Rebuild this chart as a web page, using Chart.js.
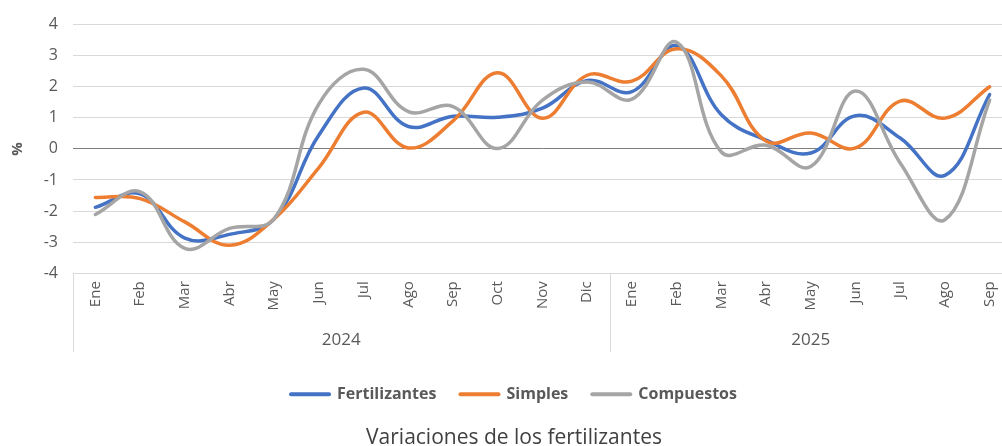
<!DOCTYPE html>
<html>
<head>
<meta charset="utf-8">
<script src="https://cdn.jsdelivr.net/npm/chart.js@4/dist/chart.umd.min.js"></script>
<style>
  html, body { margin: 0; padding: 0; background: #fff; overflow: hidden; }
  #wrap { width: 1024px; height: 446px; }
</style>
</head>
<body>
<div id="wrap"><canvas id="chart" width="1024" height="446"></canvas></div>
<script>
const months = ['Ene','Feb','Mar','Abr','May','Jun','Jul','Ago','Sep','Oct','Nov','Dic',
                'Ene','Feb','Mar','Abr','May','Jun','Jul','Ago','Sep'];
const yearLabels = ['2024', '2025'];
const yearSpans = [12, 9];

const fertilizantes = [-1.88,-1.45,-2.87,-2.75,-2.25,0.45,1.96,0.72,1.05,1.02,1.31,2.2,
                       1.84,3.32,1.1,0.28,-0.13,1.07,0.35,-0.85,1.75];
const simples = [-1.56,-1.6,-2.35,-3.1,-2.25,-0.6,1.18,0.03,0.9,2.45,0.99,2.37,
                 2.18,3.22,2.35,0.25,0.51,0.03,1.54,0.99,2.0];
const compuestos = [-2.11,-1.38,-3.2,-2.56,-2.25,1.45,2.56,1.2,1.36,0.01,1.57,2.15,
                    1.6,3.43,-0.1,0.12,-0.57,1.86,-0.45,-2.28,1.57];

const yTicks = [-4,-3,-2,-1,0,1,2,3,4];

const FONT = "'Open Sans', 'Noto Sans', sans-serif";
const TXT = '#595959';

// year row under the month labels, with the group separators
const yearGroups = {
  id: 'yearGroups',
  afterDraw(chart) {
    const x = chart.scales.x;
    const ctx = chart.ctx;
    const top = x.top;
    const bottom = x.top + 79;
    const bounds = [x.left];
    let idx = 0;
    yearSpans.forEach(n => {
      idx += n;
      if (idx < months.length) {
        bounds.push((x.getPixelForTick(idx - 1) + x.getPixelForTick(idx)) / 2);
      } else {
        bounds.push(x.right);
      }
    });
    ctx.save();
    ctx.strokeStyle = '#d9d9d9';
    ctx.lineWidth = 1;
    bounds.forEach(b => {
      const px = Math.round(b) + 0.5;
      ctx.beginPath();
      ctx.moveTo(px, top);
      ctx.lineTo(px, bottom);
      ctx.stroke();
    });
    ctx.fillStyle = TXT;
    ctx.font = '17px ' + FONT;
    ctx.textAlign = 'center';
    ctx.textBaseline = 'middle';
    yearLabels.forEach((label, i) => {
      ctx.fillText(label, (bounds[i] + bounds[i + 1]) / 2, top + 67);
    });
    ctx.restore();
  }
};

const ctx = document.getElementById('chart').getContext('2d');
new Chart(ctx, {
  type: 'line',
  data: {
    labels: months,
    datasets: [
      { label: 'Fertilizantes', data: fertilizantes, borderColor: '#4472c4', backgroundColor: '#4472c4', order: 3 },
      { label: 'Simples', data: simples, borderColor: '#ed7d31', backgroundColor: '#ed7d31', order: 2 },
      { label: 'Compuestos', data: compuestos, borderColor: '#a5a5a5', backgroundColor: '#a5a5a5', order: 1 }
    ]
  },
  options: {
    responsive: false,
    animation: false,
    layout: { padding: { top: 22, right: 12, left: 16, bottom: 0 } },
    elements: {
      line: { borderWidth: 3.5, tension: 0.4, borderCapStyle: 'round', borderJoinStyle: 'round' },
      point: { radius: 0 }
    },
    plugins: {
      legend: {
        position: 'bottom',
        labels: {
          color: TXT,
          font: { family: FONT, size: 16, weight: 'bold' },
          usePointStyle: true,
          pointStyleWidth: 38,
          padding: 24,
          generateLabels(chart) {
            return chart.data.datasets.map((ds, i) => ({
              text: ds.label,
              fillStyle: ds.borderColor,
              strokeStyle: ds.borderColor,
              lineWidth: 4,
              lineCap: 'round',
              pointStyle: 'line',
              fontColor: TXT,
              hidden: false,
              datasetIndex: i
            }));
          }
        }
      },
      title: {
        display: true,
        position: 'bottom',
        text: 'Variaciones de los fertilizantes',
        color: '#404040',
        font: { family: FONT, size: 21, weight: 'normal', lineHeight: 0.8 },
        padding: { top: 17, bottom: 0 }
      },
      tooltip: { enabled: false }
    },
    scales: {
      x: {
        offset: true,
        grid: { display: false, drawTicks: false },
        border: { display: true, color: '#d9d9d9' },
        ticks: {
          color: TXT,
          font: { family: FONT, size: 15 },
          minRotation: 90,
          maxRotation: 90,
          autoSkip: false,
          padding: 8
        },
        afterFit(scale) { scale.height = 89; }
      },
      y: {
        min: -4,
        max: 4,
        afterBuildTicks(scale) { scale.ticks = yTicks.map(v => ({ value: v })); },
        grid: {
          drawTicks: false,
          color: c => (c.tick && c.tick.value === 0 ? '#7f7f7f' : '#d9d9d9'),
          lineWidth: 1
        },
        border: { display: false },
        ticks: {
          color: TXT,
          font: { family: FONT, size: 16 },
          padding: 15
        },
        title: {
          display: true,
          text: '%',
          color: TXT,
          font: { family: FONT, size: 15, weight: 'bold' },
          padding: { top: -7, bottom: 0 }
        },
        afterFit(scale) { scale.width = 57; }
      }
    }
  },
  plugins: [yearGroups]
});
</script>
</body>
</html>
